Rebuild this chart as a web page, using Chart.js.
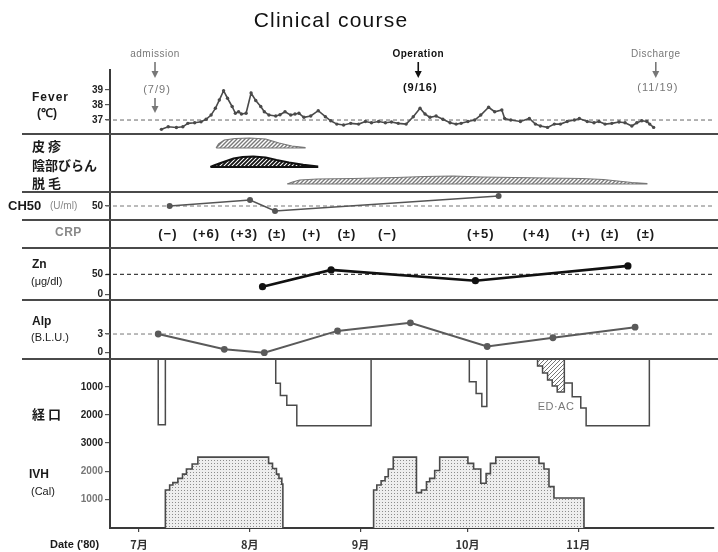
<!DOCTYPE html>
<html>
<head>
<meta charset="utf-8">
<script src="https://cdn.jsdelivr.net/npm/chart.js@4.4.1/dist/chart.umd.min.js"></script>
<style>
  html, body { margin: 0; padding: 0; background: #fff; }
</style>
</head>
<body>
<canvas id="c" width="718" height="552"></canvas>
<script>
// x = days since 1 Jul 1980
const monthTicks = [0, 31, 62, 92, 123];
const monthLabels = ['7月', '8月', '9月', '10月', '11月'];

// fever (°C)
const feverDays = [6.3, 8.2, 10.5, 12.3, 13.7, 15.6, 17.4, 18.8, 20.2, 21.4, 22.5, 23.7, 24.8, 26.1, 27.0, 27.9, 28.7, 30.0,
  31.4, 32.7, 34.1, 35.1, 36.4, 38.3, 39.5, 40.9, 42.5, 43.7, 44.8, 46.2, 48.1, 50.2, 52.2, 53.7, 55.4, 57.3, 59.3,
  61.5, 63.4, 65.1, 67.1, 69.0, 70.7, 72.6, 74.8, 76.8, 78.7, 80.1, 81.5, 83.2, 85.1, 87.1, 88.8, 90.2, 92.1, 94.0,
  95.7, 97.9, 99.6, 101.6, 102.4, 104.1, 106.8, 109.3, 111.0, 112.4, 114.4, 116.3, 118.0, 119.9, 121.9, 123.3,
  125.5, 127.4, 128.8, 130.5, 132.4, 134.4, 136.1, 138.0, 139.4, 140.8, 142.2, 143.0, 144.1];
const feverTemps = [36.38, 36.55, 36.5, 36.55, 36.78, 36.82, 36.88, 37.05, 37.33, 37.78, 38.33, 38.95, 38.45, 37.9, 37.45, 37.55, 37.4, 37.45,
  38.8, 38.3, 37.9, 37.55, 37.33, 37.27, 37.35, 37.55, 37.33, 37.4, 37.45, 37.18, 37.27, 37.62, 37.22, 36.95, 36.73, 36.67, 36.78,
  36.73, 36.9, 36.82, 36.9, 36.82, 36.87, 36.78, 36.73, 37.22, 37.78, 37.4, 37.18, 37.27, 37.05, 36.82, 36.73, 36.78, 36.9, 37.0,
  37.33, 37.85, 37.55, 37.67, 37.1, 37.0, 36.9, 37.1, 36.73, 36.6, 36.51, 36.73, 36.73, 36.9, 37.0, 37.1,
  36.9, 36.82, 36.9, 36.73, 36.78, 36.87, 36.82, 36.6, 36.82, 36.95, 36.9, 36.73, 36.51];

// skin findings: [day, severity]
const rash = [[21.6, 0], [22.3, 4], [23.9, 8], [27, 9.5], [31, 10], [35.5, 9], [39.2, 5], [42.8, 2], [46.5, 0.5]];
const erosion = [[20, 0], [21, 1.5], [22.5, 3.5], [24.5, 6], [26.5, 8.5], [29, 10], [32, 10.5], [35.5, 9.5], [38.5, 7], [42, 4.5], [46, 2.2], [49.9, 0.5]];
const alopecia = [[41.5, 0], [43, 2], [45, 4], [50, 5], [60, 5.5], [72, 6.5], [80, 7.5], [88, 8], [96, 7], [105, 6.5], [114, 6], [124, 5.5], [130, 4.5], [134, 3], [138, 1.5], [142.2, 0.5]];

// CH50 (U/ml)
const ch50Days = [8.6, 31.1, 38.1, 100.7];
const ch50Vals = [50, 56, 45, 60];

// CRP
const crpDays = [8.1, 18.9, 29.5, 38.7, 48.4, 58.2, 69.6, 95.7, 111.3, 123.8, 131.9, 141.9];
const crpLabels = ['(−)', '(+6)', '(+3)', '(±)', '(+)', '(±)', '(−)', '(+5)', '(+4)', '(+)', '(±)', '(±)'];

// Zn (µg/dl)
const znDays = [34.6, 53.8, 94.2, 136.9];
const znVals = [19, 61, 34, 71];

// Alp (B.L.U.)
const alpDays = [5.4, 23.9, 35.1, 55.6, 76.0, 97.5, 115.9, 138.9];
const alpVals = [3.0, 0.55, 0.0, 3.5, 4.8, 1.0, 2.4, 4.1];

// oral intake (Cal), [day, value from that day on]
const oralSteps = [[5.4, 0], [5.4, 2350], [7.4, 0], null,
  [38.3, 0], [38.3, 870], [39.6, 1300], [41.4, 1650], [44.2, 2380], [65.0, 0], null,
  [92.5, 0], [92.5, 810], [94.4, 1230], [96.0, 1700], [97.4, 0], null,
  [119.1, 860], [121.3, 1350], [123.7, 1750], [125.2, 2380], [142.9, 0]];
const edacSteps = [[111.6, 0], [111.6, 250], [113.0, 500], [114.4, 750], [115.7, 960], [117.1, 1180], [119.1, 0]];

// IVH (Cal)
const ivhSteps = [[7.4, 0], [7.4, 1340], [8.6, 1520], [9.5, 1600], [10.9, 1750], [12.2, 1900], [13.3, 2080], [14.9, 2260], [16.5, 2500],
  [36.3, 2280], [37.4, 2100], [38.5, 1900], [39.2, 1750], [40.0, 1550], [40.3, 0], null,
  [65.7, 0], [65.7, 1340], [66.6, 1520], [67.8, 1670], [68.9, 1810], [69.8, 2080], [71.2, 2500], [77.7, 1250], [79.1, 1340],
  [80.5, 1630], [81.4, 1750], [82.8, 2030], [84.2, 2500], [92.1, 2280], [93.7, 2080], [95.7, 1580], [97.2, 1920], [98.4, 2280],
  [99.9, 2500], [112.0, 2280], [113.4, 2080], [114.8, 1460], [116.2, 1060], [124.6, 0]];

// events above the chart
const events = [
  { day: 4.5, name: 'admission', date: '(7/9)', color: '#777' },
  { day: 78.2, name: 'Operation', date: '(9/16)', color: '#111' },
  { day: 144.7, name: 'Discharge', date: '(11/19)', color: '#777' }
];

const FONT = "'Liberation Sans', Arial, sans-serif";
const JP = "'Noto Sans CJK JP', sans-serif";
const LINE = '#4a4a4a';

function hatch(size, color, width, bg) {
  const c = document.createElement('canvas');
  c.width = size; c.height = size;
  const g = c.getContext('2d');
  g.fillStyle = bg; g.fillRect(0, 0, size, size);
  g.strokeStyle = color; g.lineWidth = width;
  g.beginPath();
  g.moveTo(-1, size + 1); g.lineTo(size + 1, -1);
  g.moveTo(-1, 1); g.lineTo(1, -1);
  g.moveTo(size - 1, size + 1); g.lineTo(size + 1, size - 1);
  g.stroke();
  return g.createPattern(c, 'repeat');
}
function dots() {
  const c = document.createElement('canvas');
  c.width = 3; c.height = 3;
  const g = c.getContext('2d');
  g.fillStyle = '#eeeeee'; g.fillRect(0, 0, 3, 3);
  g.fillStyle = '#8c8c8c'; g.fillRect(1, 1, 1, 1);
  return g.createPattern(c, 'repeat');
}

const xy = (days, vals) => days.map((d, i) => ({ x: d, y: vals[i] }));
const steps = arr => arr.map(p => p ? { x: p[0], y: p[1] } : { x: NaN, y: null });
const rowBase = { rash: 44, erosion: 25, alopecia: 8 };
// closed outline: top profile, then back along the row baseline
const hump = (arr, base) => {
  const pts = arr.map(p => ({ x: p[0], y: base + p[1] }));
  pts.push({ x: arr[arr.length - 1][0], y: base }, { x: arr[0][0], y: base });
  return pts;
};

function yPanel(order, h, min, max, tickVals, extra = {}) {
  return {
    type: 'linear', position: 'left', stack: 'panels', stackWeight: h, weight: order,
    min, max, reverse: !!extra.reverse,
    afterFit: s => { s.width = 110; },
    afterBuildTicks: s => { s.ticks = tickVals.map(v => ({ value: v })); },
    border: { display: true, color: '#3a3a3a', width: 2 },
    grid: { drawOnChartArea: false, drawTicks: tickVals.length > 0, tickLength: 5, color: '#555', lineWidth: 1.2 },
    ticks: { display: tickVals.length > 0, padding: 2, color: extra.tickColor || '#222',
      font: { family: FONT, size: 10, weight: 'bold' }, callback: v => String(v) }
  };
}

const refLines = [
  { axis: 'yFever', value: 37, color: '#666' },
  { axis: 'yCH50', value: 50, color: '#777' },
  { axis: 'yZn', value: 50, color: '#111' },
  { axis: 'yAlp', value: 3, color: '#777' }
];

function txt(ctx, s, x, y, font, color, align, spacing) {
  ctx.save();
  ctx.font = font; ctx.fillStyle = color; ctx.textAlign = align || 'left'; ctx.textBaseline = 'middle';
  if (spacing) ctx.letterSpacing = spacing + 'px';
  ctx.fillText(s, x, y);
  ctx.restore();
}
function arrow(ctx, x, y0, y1, color) {
  ctx.save();
  ctx.strokeStyle = color; ctx.fillStyle = color; ctx.lineWidth = 1.6;
  ctx.beginPath(); ctx.moveTo(x, y0); ctx.lineTo(x, y1 - 5); ctx.stroke();
  ctx.beginPath(); ctx.moveTo(x - 3.5, y1 - 7); ctx.lineTo(x + 3.5, y1 - 7); ctx.lineTo(x, y1); ctx.closePath(); ctx.fill();
  ctx.restore();
}

const decor = {
  id: 'decor',
  beforeDatasetsDraw(chart) {
    const { ctx, chartArea: a } = chart;
    refLines.forEach(r => {
      const y = chart.scales[r.axis].getPixelForValue(r.value);
      ctx.save();
      ctx.setLineDash([4, 3]); ctx.strokeStyle = r.color; ctx.lineWidth = 1;
      ctx.beginPath(); ctx.moveTo(a.left - 4, y); ctx.lineTo(a.right, y); ctx.stroke();
      ctx.restore();
    });
  },
  afterDraw(chart) {
    const { ctx, scales } = chart;
    // panel dividers
    ['yFever', 'ySkin', 'yCH50', 'yCRP', 'yZn', 'yAlp'].forEach(id => {
      const y = Math.round(scales[id].bottom);
      ctx.save(); ctx.strokeStyle = '#4a4a4a'; ctx.lineWidth = 2;
      ctx.beginPath(); ctx.moveTo(22, y); ctx.lineTo(718, y); ctx.stroke(); ctx.restore();
    });
    // CRP values
    const crpMeta = chart.getDatasetMeta(chart.data.datasets.findIndex(d => d.label === 'CRP'));
    crpMeta.data.forEach((pt, i) => txt(ctx, crpLabels[i], pt.x, pt.y, 'bold 13px ' + FONT, '#1a1a1a', 'center', 1));
    // title
    txt(ctx, 'Clinical course', 331, 21, '21px ' + FONT, '#111', 'center', 1.2);
    // events
    events.forEach((e, i) => {
      const x = scales.x.getPixelForValue(e.day);
      txt(ctx, e.name, x, 54, (i === 1 ? 'bold ' : '') + '10px ' + FONT, e.color, 'center', 0.5);
      arrow(ctx, x, 62, 78, e.color);
      txt(ctx, e.date, x + 2, i === 0 ? 90 : 88, (i === 1 ? 'bold ' : '') + '11px ' + FONT, e.color, 'center', 1);
      if (i === 0) arrow(ctx, x, 98, 113, e.color);
    });
    // panel labels
    const B = 'bold 12px ' + FONT, S = '11px ' + FONT, J = 'bold 13px ' + JP;
    txt(ctx, 'Fever', 32, 98, B, '#1a1a1a', 'left', 1);
    txt(ctx, '(℃)', 37, 114, B, '#1a1a1a');
    txt(ctx, '皮 疹', 32, 146, J, '#1a1a1a');
    txt(ctx, '陰部びらん', 32, 165, J, '#1a1a1a');
    txt(ctx, '脱 毛', 32, 183, J, '#1a1a1a');
    txt(ctx, 'CH50', 8, 206, 'bold 13px ' + FONT, '#1a1a1a');
    txt(ctx, '(U/ml)', 50, 206, '10px ' + FONT, '#888');
    txt(ctx, 'CRP', 55, 233, 'bold 12px ' + FONT, '#888', 'left', 0.5);
    txt(ctx, 'Zn', 32, 265, B, '#1a1a1a');
    txt(ctx, '(μg/dl)', 31, 282, S, '#1a1a1a');
    txt(ctx, 'Alp', 32, 322, B, '#1a1a1a');
    txt(ctx, '(B.L.U.)', 31, 338, S, '#1a1a1a');
    txt(ctx, '経 口', 32, 414, J, '#1a1a1a');
    txt(ctx, 'IVH', 29, 475, B, '#1a1a1a');
    txt(ctx, '(Cal)', 31, 492, S, '#1a1a1a');
    txt(ctx, 'ED·AC', 556, 407, '11px ' + FONT, '#777', 'center', 0.5);
    txt(ctx, "Date ('80)", 50, 545, 'bold 11px ' + FONT, '#1a1a1a');
  }
};

new Chart(document.getElementById('c'), {
  type: 'line',
  data: {
    datasets: [
      { label: 'Fever', yAxisID: 'yFever', data: xy(feverDays, feverTemps), borderColor: LINE, borderWidth: 1.6,
        pointRadius: 1.7, pointBackgroundColor: LINE, pointBorderWidth: 0 },
      { label: '皮疹', yAxisID: 'ySkin', data: hump(rash, rowBase.rash), borderColor: '#777', borderWidth: 1.2,
        backgroundColor: hatch(4, '#7a7a7a', 1.4, '#fff'), fill: 'shape', pointRadius: 0 },
      { label: '陰部びらん', yAxisID: 'ySkin', data: hump(erosion, rowBase.erosion), borderColor: '#111', borderWidth: 2.2,
        backgroundColor: hatch(4, '#111', 1.8, '#fff'), fill: 'shape', pointRadius: 0 },
      { label: '脱毛', yAxisID: 'ySkin', data: hump(alopecia, rowBase.alopecia), borderColor: '#777', borderWidth: 1.2,
        backgroundColor: hatch(4, '#7a7a7a', 1.4, '#fff'), fill: 'shape', pointRadius: 0 },
      { label: 'CH50', yAxisID: 'yCH50', data: xy(ch50Days, ch50Vals), borderColor: '#555', borderWidth: 1.5,
        pointRadius: 3, pointBackgroundColor: '#555', pointBorderWidth: 0 },
      { label: 'CRP', yAxisID: 'yCRP', data: crpDays.map(d => ({ x: d, y: 0.5 })), showLine: false, pointRadius: 0 },
      { label: 'Zn', yAxisID: 'yZn', data: xy(znDays, znVals), borderColor: '#111', borderWidth: 2.6,
        pointRadius: 3.6, pointBackgroundColor: '#111', pointBorderWidth: 0 },
      { label: 'Alp', yAxisID: 'yAlp', data: xy(alpDays, alpVals), borderColor: '#5a5a5a', borderWidth: 2,
        pointRadius: 3.4, pointBackgroundColor: '#5a5a5a', pointBorderWidth: 0 },
      { label: 'ED-AC', yAxisID: 'yOral', data: steps(edacSteps), stepped: 'before', borderColor: LINE, borderWidth: 1.5,
        backgroundColor: hatch(4, '#777', 1, '#fff'), fill: 'origin', pointRadius: 0 },
      { label: '経口', yAxisID: 'yOral', data: steps(oralSteps), stepped: 'before', borderColor: LINE, borderWidth: 1.5,
        fill: false, pointRadius: 0, spanGaps: false },
      { label: 'IVH', yAxisID: 'yIVH', data: steps(ivhSteps), stepped: 'before', borderColor: LINE, borderWidth: 1.6,
        backgroundColor: dots(), fill: 'origin', pointRadius: 0, spanGaps: false }
    ]
  },
  options: {
    responsive: false,
    animation: false,
    events: [],
    layout: { padding: { top: 70, left: 0, right: 0, bottom: 0 } },
    plugins: { legend: { display: false }, tooltip: { enabled: false }, title: { display: false } },
    elements: { line: { tension: 0 } },
    scales: {
      x: {
        type: 'linear', position: 'bottom', min: -8.1, max: 161,
        afterFit: s => { s.height = 24; },
        afterBuildTicks: s => { s.ticks = monthTicks.map(v => ({ value: v })); },
        border: { color: '#3a3a3a', width: 2 },
        grid: { drawOnChartArea: false, tickLength: 4, color: '#444', lineWidth: 1.2 },
        ticks: { autoSkip: false, maxRotation: 0, padding: 6, color: '#333',
          font: { family: JP, size: 11, weight: 'bold' }, callback: v => monthLabels[monthTicks.indexOf(v)] }
      },
      yFever: yPanel(8, 64, 36.07, 40.33, [37, 38, 39]),
      ySkin: yPanel(7, 58, 0, 58, []),
      yCH50: yPanel(6, 28, 36, 64, [50]),
      yCRP: yPanel(5, 28, 0, 1, []),
      yZn: yPanel(4, 52, -14.25, 115.75, [0, 50]),
      yAlp: yPanel(3, 59, -1.01, 8.46, [0, 3]),
      yOral: yPanel(2, 84, 0, 3000, [1000, 2000, 3000], { reverse: true }),
      yIVH: yPanel(1, 85, 0, 3000, [1000, 2000], { tickColor: '#777' })
    }
  },
  plugins: [decor]
});
</script>
</body>
</html>
